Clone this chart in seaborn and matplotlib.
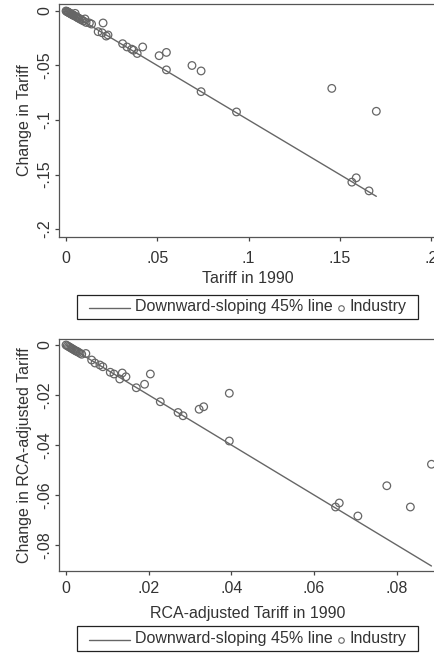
import matplotlib
matplotlib.use("Agg")
import pandas as pd
import seaborn as sns
from matplotlib import pyplot as plt
from matplotlib.lines import Line2D
from matplotlib.offsetbox import DrawingArea, TextArea, HPacker, AnchoredOffsetbox

# panel 1: tariff in 1990 vs change in tariff
tariff_1990 = [0.0, 0.0004, 0.0008, 0.0012, 0.0016, 0.002, 0.0024, 0.0028, 0.0032, 0.0036,
               0.004, 0.0045, 0.005, 0.0055, 0.006, 0.0065, 0.007, 0.0078, 0.0085, 0.0095,
               0.0104, 0.011, 0.0128, 0.014, 0.0176, 0.0198, 0.0203, 0.022, 0.023,
               0.031, 0.0334, 0.036, 0.037, 0.039, 0.042, 0.051, 0.055, 0.055,
               0.069, 0.074, 0.074, 0.0934, 0.1456, 0.1566, 0.159, 0.166, 0.170]
tariff_change = [0.0, -0.0004, -0.0008, -0.0012, -0.0015, -0.002, -0.0023, -0.0027, -0.0031, -0.0035,
                 -0.0039, -0.0043, -0.0022, -0.0052, -0.0057, -0.0062, -0.0067, -0.0075, -0.0081, -0.0091,
                 -0.0073, -0.0105, -0.011, -0.012, -0.019, -0.020, -0.011, -0.023, -0.022,
                 -0.030, -0.033, -0.035, -0.036, -0.039, -0.033, -0.041, -0.038, -0.054,
                 -0.050, -0.055, -0.074, -0.0926, -0.071, -0.157, -0.153, -0.165, -0.092]

# panel 2: RCA-adjusted tariff
rca_1990 = [0.0, 0.0003, 0.0006, 0.0009, 0.0012, 0.0015, 0.0018, 0.0021, 0.0024, 0.0027,
            0.003, 0.0034, 0.0038, 0.0048, 0.0062, 0.007, 0.0082, 0.0089, 0.0107, 0.0116,
            0.013, 0.0136, 0.0145, 0.017, 0.019, 0.0204, 0.0228, 0.0271, 0.0283,
            0.0322, 0.0333, 0.0395, 0.0395, 0.0652, 0.0661, 0.0706, 0.0776, 0.0833, 0.0884]
rca_change = [0.0, -0.0003, -0.0006, -0.0009, -0.0012, -0.0015, -0.0018, -0.0021, -0.0024, -0.0026,
              -0.0029, -0.0033, -0.0037, -0.0034, -0.006, -0.0072, -0.008, -0.0087, -0.0109, -0.0116,
              -0.0136, -0.0112, -0.0127, -0.0171, -0.0157, -0.0116, -0.0227, -0.027, -0.0283,
              -0.0257, -0.0247, -0.0193, -0.0384, -0.0648, -0.0632, -0.0684, -0.0563, -0.0648, -0.0477]

line_label = "Downward-sloping 45% line"
point_label = "Industry"

panels = [
    dict(x=tariff_1990, y=tariff_change, xlabel="Tariff in 1990", ylabel="Change in Tariff",
         xticks=[0, 0.05, 0.1, 0.15, 0.2], xticklabels=["0", ".05", ".1", ".15", ".2"],
         yticks=[0, -0.05, -0.1, -0.15, -0.2], yticklabels=["0", "-.05", "-.1", "-.15", "-.2"],
         xlim=(-0.00385, 0.2027), ylim=(-0.2073, 0.0064),
         rect=[59/435, 416/653, 377/435, 233/653], leg_y=346/653, xpad=7.0, labelpad=4),
    dict(x=rca_1990, y=rca_change, xlabel="RCA-adjusted Tariff in 1990",
         ylabel="Change in RCA-adjusted Tariff",
         xticks=[0, 0.02, 0.04, 0.06, 0.08], xticklabels=["0", ".02", ".04", ".06", ".08"],
         yticks=[0, -0.02, -0.04, -0.06, -0.08], yticklabels=["0", "-.02", "-.04", "-.06", "-.08"],
         xlim=(-0.0017, 0.0895), ylim=(-0.0904, 0.0024),
         rect=[59/435, 82/653, 377/435, 232/653], leg_y=14.5/653, xpad=4.5, labelpad=7),
]

sns.set_theme(style="white")
plt.rcParams['font.family'] = ['Liberation Sans', 'DejaVu Sans']

txt = "#333333"
grey = "#666666"
fs = 11.5

fig = plt.figure(figsize=(4.35, 6.53), dpi=100)

for p in panels:
    ax = fig.add_axes(p["rect"])
    df = pd.DataFrame({"x": p["x"], "y": p["y"]})
    xmax = max(p["x"])
    line = pd.DataFrame({"x": [0, xmax], "y": [0, -xmax]})
    sns.lineplot(data=line, x="x", y="y", ax=ax, color=grey, linewidth=1.0)
    sns.scatterplot(data=df, x="x", y="y", ax=ax, marker="o", s=30,
                    facecolors="none", edgecolor=grey, linewidth=0.9)
    ax.set_xlim(p["xlim"])
    ax.set_ylim(p["ylim"])
    ax.set_xticks(p["xticks"])
    ax.set_xticklabels(p["xticklabels"])
    ax.set_yticks(p["yticks"])
    ax.set_yticklabels(p["yticklabels"], rotation=90, va="center")
    ax.set_xlabel(p["xlabel"], fontsize=fs, color=txt, labelpad=p["labelpad"])
    ax.set_ylabel(p["ylabel"], fontsize=fs, color=txt, labelpad=4)
    ax.tick_params(axis="both", direction="out", length=3, width=0.9,
                   color="#444444", labelsize=fs, labelcolor=txt, bottom=True, left=True)
    ax.tick_params(axis="x", pad=p["xpad"])
    ax.tick_params(axis="y", pad=1.5)
    for side in ["left", "bottom", "top"]:
        ax.spines[side].set_color("#555555")
        ax.spines[side].set_linewidth(0.9)
    ax.spines["right"].set_visible(False)

    # legend box: line sample, label, circle sample, label
    da1 = DrawingArea(30, 10, 0, 0)
    da1.add_artist(Line2D([0, 30], [4, 4], color=grey, linewidth=1.0))
    da2 = DrawingArea(5, 10, 0, 0)
    da2.add_artist(Line2D([2.5], [4], marker="o", markersize=4, markerfacecolor="none",
                          markeredgecolor=grey, markeredgewidth=0.8, linestyle="none"))
    props = dict(color=txt, fontsize=fs)
    box = HPacker(children=[DrawingArea(1.5, 1), da1, TextArea(line_label, textprops=props), da2,
                            TextArea(point_label, textprops=props), DrawingArea(1.5, 1)],
                  align="center", pad=0, sep=3.5)
    anch = AnchoredOffsetbox(loc="center", child=box, pad=0.3, borderpad=0, frameon=True,
                             bbox_to_anchor=(0.569, p["leg_y"]), bbox_transform=fig.transFigure)
    anch.patch.set_boxstyle("square", pad=0)
    anch.patch.set_edgecolor("#222222")
    anch.patch.set_linewidth(0.9)
    fig.add_artist(anch)

plt.savefig("out.png", dpi=100)
